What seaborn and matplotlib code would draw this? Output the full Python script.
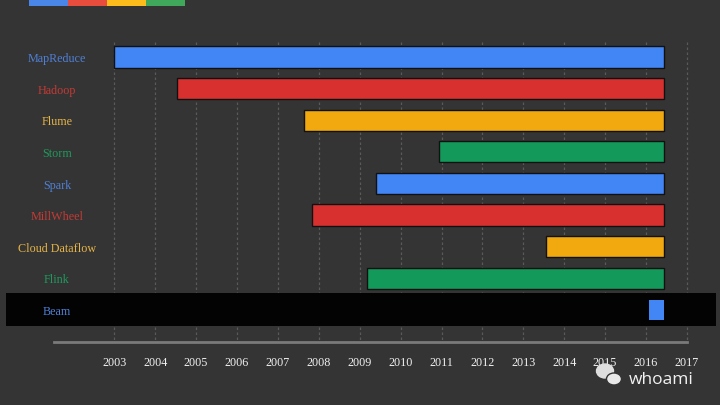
import matplotlib
matplotlib.use("Agg")
import matplotlib.pyplot as plt
import seaborn as sns
import pandas as pd
from matplotlib.patches import Ellipse

# ---- data ----
projects = ["MapReduce", "Hadoop", "Flume", "Storm", "Spark",
            "MillWheel", "Cloud Dataflow", "Flink", "Beam"]
start_year = [2003.0, 2004.54, 2007.64, 2010.94, 2009.40,
              2007.83, 2013.55, 2009.17, 2016.07]
end_year = [2016.45, 2016.45, 2016.45, 2016.45, 2016.45,
            2016.45, 2016.45, 2016.45, 2016.45]
years = list(range(2003, 2018))
strip_labels = ["blue", "red", "yellow", "green"]

BG = "#343434"
bar_palette = {"blue": "#4285F4", "red": "#D8302F", "yellow": "#F2A90F", "green": "#13995A"}
label_palette = {"blue": "#4F80D6", "red": "#C43A34", "yellow": "#E6B447", "green": "#1F9A5C"}
strip_palette = ["#4A86E8", "#E84C3D", "#FBBC1C", "#3FA85A"]
row_color = ["blue", "red", "yellow", "green", "blue", "red", "yellow", "green", "blue"]

df = pd.DataFrame({"project": projects, "start": start_year, "end": end_year,
                   "color": row_color})
df["duration"] = df["end"] - df["start"]

sns.set_theme(style="dark", rc={"axes.facecolor": BG, "figure.facecolor": BG})

fig = plt.figure(figsize=(7.2, 4.05), dpi=100)
fig.patch.set_facecolor(BG)
# main axes: full width, from bottom y px 342 to top
ax = fig.add_axes([0, 1 - 342 / 405, 1, 342 / 405])
ax.set_facecolor(BG)

ax.set_xlim(2000.205, 2017.809)
ax.set_ylim(9.019, -1.804)

# highlight band for Beam
beam_i = projects.index("Beam")
ax.axhspan(beam_i - 0.53, beam_i + 0.51, xmin=6 / 720, xmax=716 / 720,
           color="#030303", zorder=2, lw=0)

# vertical dotted gridlines
ax.vlines(years, -0.475, 8.956, colors="#5a5a5a", linestyles=(0, (2, 2)),
          linewidth=0.9, zorder=1)

# bars
for i, row in df.iterrows():
    is_beam = row["project"] == "Beam"
    ax.barh(i, row["duration"], left=row["start"],
            height=0.63 if is_beam else 0.665,
            color=bar_palette[row["color"]],
            edgecolor="none" if is_beam else "#111111",
            linewidth=1.0, zorder=3)

# category labels
ytr = ax.get_yaxis_transform()
for i, (name, c) in enumerate(zip(projects, row_color)):
    ax.text(57 / 720, i + 0.07, name, transform=ytr, ha="center", va="center",
            fontsize=8.7, family="Liberation Serif", color=label_palette[c], zorder=4)

# x axis
for s in ["top", "left", "right"]:
    ax.spines[s].set_visible(False)
ax.spines["bottom"].set_visible(True)
ax.spines["bottom"].set_color("#7a7a7a")
ax.spines["bottom"].set_linewidth(2)
ax.spines["bottom"].set_bounds(2001.53, 2016.99)
ax.set_yticks([])
ax.set_xticks(years)
ax.set_xticklabels([str(y) for y in years], family="Liberation Serif",
                   fontsize=8.7, color="#f0f0f0")
ax.tick_params(axis="x", direction="out", length=2.5, width=1.5,
               color="#dddddd", pad=8.2)
ax.grid(False)

# top colour strip
sax = fig.add_axes([29 / 720, 1 - 6 / 405, 156 / 720, 6 / 405])
sax.barh([0] * len(strip_labels), [1] * len(strip_labels),
         left=list(range(len(strip_labels))), height=1.0,
         color=strip_palette, linewidth=0)
sax.set_xlim(0, len(strip_labels))
sax.set_ylim(-0.5, 0.5)
sax.axis("off")

# watermark
W, H = 720, 405
fig.text(694 / W, 1 - 384 / H, "whoami", ha="right", va="baseline",
         fontsize=12.5, family="Open Sans", color="#f2f2f2")
fig.patches.append(Ellipse((605 / W, 1 - 371 / H), 17 / W, 14 / H,
                           transform=fig.transFigure, color="#dedede", zorder=5))
fig.patches.append(Ellipse((614 / W, 1 - 379 / H), 15 / W, 12 / H,
                           transform=fig.transFigure, color="#e8e8e8", zorder=6,
                           ec=BG, lw=1))

fig.savefig("out.png", dpi=100, facecolor=BG)
